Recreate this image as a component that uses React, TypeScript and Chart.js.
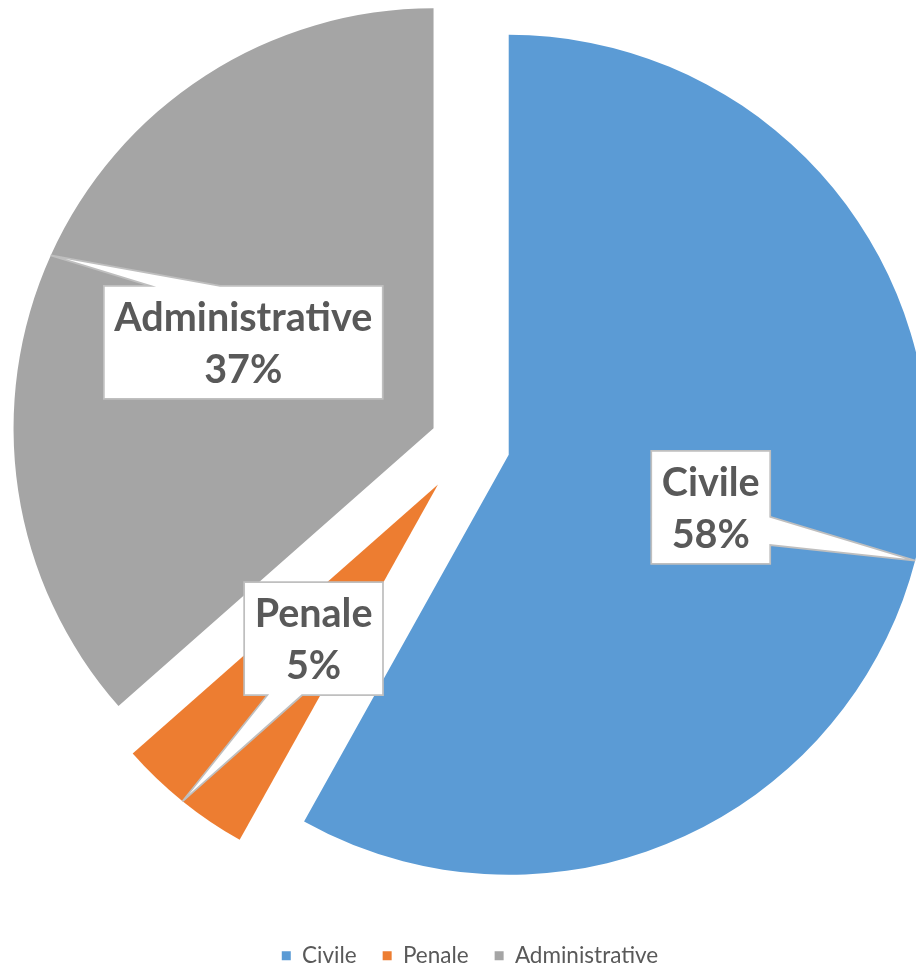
import React, { useEffect, useRef } from 'react';
import { Chart, registerables } from 'chart.js';

Chart.register(...registerables);

// ---- data ----
const categories = ['Civile', 'Penale', 'Administrative'];
const shares = [58.1, 5.4, 36.5];
const sliceColors = ['#5B9BD5', '#ED7D31', '#A5A5A5'];

// ---- page geometry ----
const PAGE_W = 916;
const PAGE_H = 969;
const CANVAS_TOP = -40;
const CANVAS_H = 1017;

// Moves each slice outward along its mid-angle (Excel-style point explosion)
const explodePlugin = {
  id: 'explode',
  afterDatasetsUpdate(chart: any, _args: any, opts: any) {
    const meta = chart.getDatasetMeta(0);
    meta.data.forEach((arc: any, i: number) => {
      const mid = (arc.startAngle + arc.endAngle) / 2;
      const d = (opts.offsets && opts.offsets[i]) || 0;
      arc.x += Math.cos(mid) * d;
      arc.y += Math.sin(mid) * d;
      arc.outerRadius += (opts.radiusDelta && opts.radiusDelta[i]) || 0;
    });
  },
};

// Draws Excel "data callout" boxes (wedgeRectCallout) for each slice
const calloutPlugin = {
  id: 'callouts',
  afterDatasetsDraw(chart: any, _args: any, opts: any) {
    const ctx: CanvasRenderingContext2D = chart.ctx;
    const meta = chart.getDatasetMeta(0);
    const data = chart.data.datasets[0].data as number[];
    const total = data.reduce((a, b) => a + b, 0);
    ctx.save();
    ctx.font = `bold ${opts.fontSize}px ${opts.fontFamily}`;
    meta.data.forEach((arc: any, i: number) => {
      const mid = (arc.startAngle + arc.endAngle) / 2;
      const R = arc.outerRadius;
      const cx = arc.x + Math.cos(mid) * R * opts.labelRadius[i];
      const cy = arc.y + Math.sin(mid) * R * opts.labelRadius[i];
      const tipX = arc.x + Math.cos(mid) * R * opts.tipRadius;
      const tipY = arc.y + Math.sin(mid) * R * opts.tipRadius;
      const line1 = String(chart.data.labels[i]);
      const line2 = Math.round((data[i] / total) * 100 + 1e-9) + '%';
      const tw = Math.max(ctx.measureText(line1).width, ctx.measureText(line2).width);
      const w = tw + 2 * opts.padX;
      const h = opts.boxHeight;
      const l = cx - w / 2;
      const t = cy - h / 2;
      const r = l + w;
      const b = t + h;
      const dx = tipX - cx;
      const dy = tipY - cy;
      const vertical = Math.abs(dy) > Math.abs((dx * h) / w);
      const xa = l + (w * (dx > 0 ? 7 : 2)) / 12;
      const xb = l + (w * (dx > 0 ? 10 : 5)) / 12;
      const ya = t + (h * (dy > 0 ? 7 : 2)) / 12;
      const yb = t + (h * (dy > 0 ? 10 : 5)) / 12;
      const pts: number[][] = [[l, t]];
      if (vertical && dy < 0) pts.push([xa, t], [tipX, tipY], [xb, t]);
      pts.push([r, t]);
      if (!vertical && dx > 0) pts.push([r, ya], [tipX, tipY], [r, yb]);
      pts.push([r, b]);
      if (vertical && dy > 0) pts.push([xb, b], [tipX, tipY], [xa, b]);
      pts.push([l, b]);
      if (!vertical && dx < 0) pts.push([l, yb], [tipX, tipY], [l, ya]);
      ctx.beginPath();
      pts.forEach((p, k) => (k === 0 ? ctx.moveTo(p[0], p[1]) : ctx.lineTo(p[0], p[1])));
      ctx.closePath();
      ctx.fillStyle = '#FFFFFF';
      ctx.fill();
      ctx.lineWidth = opts.borderWidth;
      ctx.strokeStyle = opts.borderColor;
      ctx.lineJoin = 'miter';
      ctx.stroke();
      ctx.fillStyle = opts.color;
      ctx.textAlign = 'center';
      ctx.textBaseline = 'alphabetic';
      ctx.fillText(line1, cx, cy + opts.line1Offset);
      ctx.fillText(line2, cx, cy + opts.line2Offset);
    });
    ctx.restore();
  },
};

export default function App() {
  const ref = useRef<HTMLCanvasElement>(null);

  useEffect(() => {
    if (!ref.current) return;
    const chart = new Chart(ref.current, {
      type: 'pie',
      data: {
        labels: categories,
        datasets: [
          {
            data: shares,
            backgroundColor: sliceColors,
            borderWidth: 0,
            radius: 420,
          } as any,
        ],
      },
      options: {
        responsive: false,
        animation: false,
        events: [],
        layout: { padding: { left: 24, right: 0, top: 11, bottom: 0 } },
        plugins: {
          legend: {
            position: 'bottom',
            labels: {
              boxWidth: 9,
              boxHeight: 9,
              padding: 26,
              color: '#595959',
              font: { family: 'Lato', size: 22.5 },
            },
          },
          tooltip: { enabled: false },
          explode: { offsets: [40, 51, 40], radiusDelta: [0, -13, 0] },
          callouts: {
            fontSize: 39.5,
            fontFamily: 'Lato',
            color: '#595959',
            borderColor: '#BFBFBF',
            borderWidth: 1.75,
            padX: 10.5,
            boxHeight: 113,
            line1Offset: -11.5,
            line2Offset: 40.2,
            labelRadius: [0.497, 0.487, 0.497],
            tipRadius: 1,
          },
        } as any,
      },
      plugins: [explodePlugin, calloutPlugin],
    });
    return () => chart.destroy();
  }, []);

  return (
    <div
      style={{
        position: 'fixed',
        left: 0,
        top: 0,
        width: PAGE_W,
        height: PAGE_H,
        overflow: 'hidden',
        background: '#ffffff',
      }}
    >
      <canvas
        ref={ref}
        width={PAGE_W}
        height={CANVAS_H}
        style={{ position: 'absolute', left: 0, top: CANVAS_TOP, width: PAGE_W, height: CANVAS_H }}
      />
    </div>
  );
}
